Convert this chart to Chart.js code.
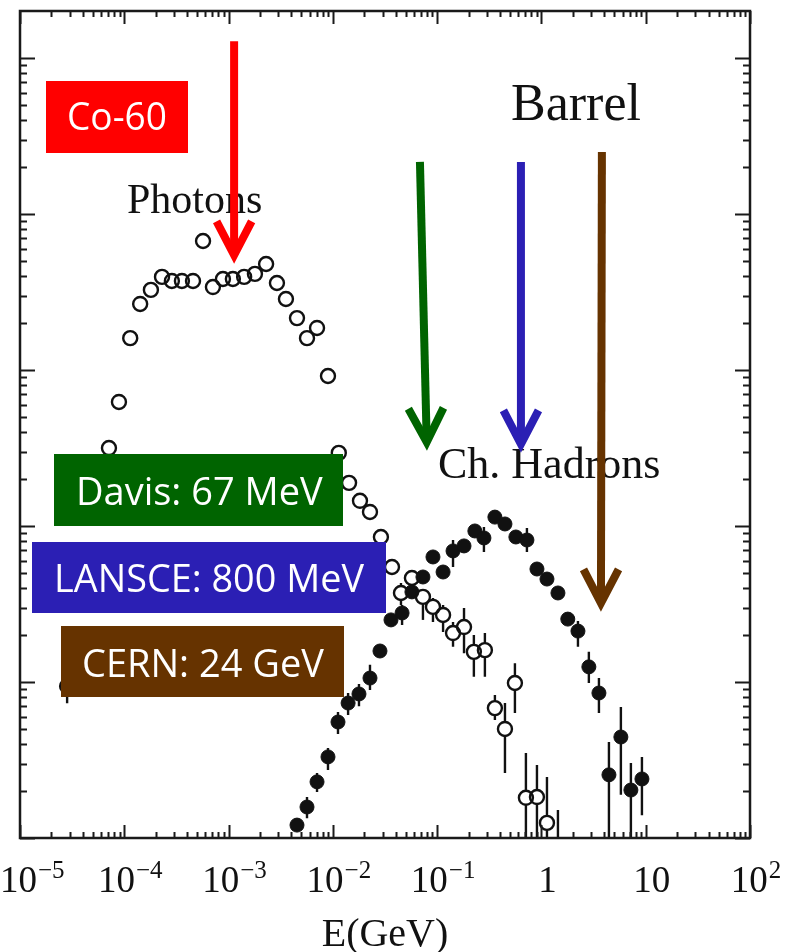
<!DOCTYPE html>
<html>
<head>
<meta charset="utf-8">
<title>E(GeV) spectrum - Barrel</title>
<script src="https://cdn.jsdelivr.net/npm/chart.js@4.4.1/dist/chart.umd.min.js"></script>
<style>
  html, body { margin: 0; padding: 0; background: #fff; }
  canvas { display: block; }
</style>
</head>
<body>
<canvas id="myChart" width="788" height="952"></canvas>
<script>
// photons (open circles): energy in GeV, flux, error bar low / high (null = none)
let photonE = [2.83e-5, 7.13e-5, 8.89e-5, 1.14e-4, 1.42e-4, 1.80e-4, 2.30e-4, 2.86e-4, 3.57e-4, 4.56e-4,
  5.69e-4, 7.08e-4, 8.83e-4, 1.10e-3, 1.41e-3, 1.79e-3, 2.29e-3, 2.91e-3, 3.55e-3, 4.53e-3,
  5.65e-3, 7.05e-3, 8.98e-3, 1.14e-2, 1.43e-2, 1.82e-2, 2.27e-2, 2.89e-2, 3.69e-2, 4.50e-2,
  5.73e-2, 7.31e-2, 9.12e-2, 0.114, 0.142, 0.181, 0.225, 0.287, 0.358, 0.447,
  0.557, 0.710, 0.906, 1.13, 1.44];
let photonN = [9.4, 316, 624, 1600, 2650, 3260, 3950, 3720, 3720, 3720,
  6710, 3400, 3830, 3830, 3950, 4130, 4780, 3610, 2850, 2150,
  1600, 1860, 915, 294, 189, 145, 123, 85, 54.6, 37.2,
  46.4, 35.1, 30.3, 26.9, 20.6, 22.5, 15.6, 16.0, 6.8, 5.0,
  9.85, 1.81, 1.83, 1.25, 0.84];
let photonLo = [7.3, null, null, null, null, null, null, null, null, null,
  null, null, null, null, null, null, null, null, null, null,
  null, null, null, null, null, null, null, null, null, 31.2,
  null, 25.0, 24.2, 20.9, 16.8, 15.3, 10.8, 10.8, 5.71, 2.61,
  6.33, 0.5, 0.5, 0.5, 0.5];
let photonHi = [11.9, null, null, null, null, null, null, null, null, null,
  null, null, null, null, null, null, null, null, null, null,
  null, null, null, null, null, null, null, null, null, 43.1,
  null, 38.9, 34.5, 31.2, 24.2, 29.8, 20.0, 20.6, 8.26, 7.34,
  13.2, 3.51, 2.94, 2.46, 1.51];

// charged hadrons (filled circles)
let hadronE = [4.53e-3, 5.65e-3, 7.05e-3, 8.98e-3, 1.12e-2, 1.40e-2, 1.78e-2, 2.27e-2, 2.83e-2, 3.61e-2,
  4.61e-2, 5.73e-2, 7.31e-2, 9.12e-2, 0.114, 0.142, 0.181, 0.230, 0.281, 0.358,
  0.447, 0.569, 0.726, 0.906, 1.13, 1.44, 1.79, 2.24, 2.85, 3.56,
  4.44, 5.78, 7.21, 9.20];
let hadronN = [1.21, 1.58, 2.29, 3.31, 5.54, 7.33, 8.38, 10.6, 15.8, 25.0,
  27.7, 37.8, 47.1, 63.3, 50.7, 69.2, 74.5, 92.9, 83.8, 114,
  103, 85, 81.3, 53.0, 45.7, 37.2, 25.3, 21.2, 12.5, 8.5,
  2.54, 4.44, 2.03, 2.39];
let hadronLo = [null, 1.34, 1.97, 2.73, 4.64, 6.14, 7.0, 8.9, null, null,
  23.2, null, null, null, null, 54.6, null, null, 68.1, null,
  null, null, 68.1, null, null, null, null, 16.8, 9.85, 6.33,
  0.5, 1.89, 0.5, 1.40];
let hadronHi = [null, 1.83, 2.61, 3.78, 6.42, 8.5, 9.7, 12.9, null, null,
  31.2, null, null, null, null, 81.3, null, null, 98.6, null,
  null, null, 97.1, null, null, null, null, 24.6, 15.6, 10.6,
  4.12, 6.92, 3.03, 3.31];

// beam energy arrows: top and tip, in axis units
let arrowColor = ["#ff0000", "#006400", "#2b1fb4", "#663300"];
let arrowTopE = [1.13e-3, 0.0684, 0.636, 3.80];
let arrowTipE = [1.13e-3, 0.0798, 0.636, 3.72];
let arrowTopN = [1.28e5, 21550, 21550, 24970];
let arrowTipN = [4850, 307, 298, 28.5];

// x axis decades
let xTickExp = [-5, -4, -3, -2, -1, 0, 1, 2];

function toPoints(xs, ys) {
  let pts = [];
  for (var i = 0; i < xs.length; i++) {
    pts.push({ x: xs[i], y: ys[i] });
  }
  return pts;
}

var serif = "'Liberation Serif', 'Times New Roman', serif";
var sans = "'Open Sans', 'Noto Sans', sans-serif";

function errorBars(ctx, sx, sy, E, N, lo, hi, r) {
  ctx.strokeStyle = "#111";
  ctx.lineWidth = 2.4;
  for (var i = 0; i < E.length; i++) {
    if (lo[i] === null) continue;
    let px = sx.getPixelForValue(E[i]);
    let cy = sy.getPixelForValue(N[i]);
    let top = sy.getPixelForValue(hi[i]);
    let bot = sy.getPixelForValue(lo[i]);
    ctx.beginPath();
    if (top < cy - r) { ctx.moveTo(px, top); ctx.lineTo(px, cy - r); }
    if (bot > cy + r) { ctx.moveTo(px, cy + r); ctx.lineTo(px, bot); }
    ctx.stroke();
  }
}

function arrow(ctx, x0, y0, x1, y1, color) {
  let ang = Math.atan2(y1 - y0, x1 - x0);
  let spread = 0.48, len = 38;
  // pull the stroked tip back so the mitred point lands on (x1, y1)
  let tx = x1 - 8 * Math.cos(ang), ty = y1 - 8 * Math.sin(ang);
  ctx.strokeStyle = color;
  ctx.lineWidth = 8;
  ctx.lineCap = "butt";
  ctx.lineJoin = "miter";
  ctx.beginPath();
  ctx.moveTo(x0, y0);
  ctx.lineTo(tx, ty);
  ctx.stroke();
  ctx.beginPath();
  ctx.moveTo(tx - len * Math.cos(ang - spread), ty - len * Math.sin(ang - spread));
  ctx.lineTo(tx, ty);
  ctx.lineTo(tx - len * Math.cos(ang + spread), ty - len * Math.sin(ang + spread));
  ctx.stroke();
}

function labelBox(ctx, text, color, x, y, w, h, tx, baseline, tw) {
  ctx.fillStyle = color;
  ctx.fillRect(x, y, w, h);
  ctx.fillStyle = "#fff";
  ctx.font = "38px " + sans;
  ctx.textAlign = "left";
  ctx.textBaseline = "alphabetic";
  ctx.fillText(text, tx, baseline, tw);
}

// frame, inward ticks, tick labels, titles, arrows and beam boxes
let figure = {
  id: "figure",
  afterDatasetsDraw(chart) {
    let ctx = chart.ctx;
    let a = chart.chartArea;
    let sx = chart.scales.x, sy = chart.scales.y;
    ctx.save();

    ctx.save();
    ctx.beginPath();
    ctx.rect(a.left, a.top, a.right - a.left, a.bottom - a.top);
    ctx.clip();
    errorBars(ctx, sx, sy, photonE, photonN, photonLo, photonHi, 7);
    errorBars(ctx, sx, sy, hadronE, hadronN, hadronLo, hadronHi, 6);
    ctx.restore();

    ctx.fillStyle = "#111";
    ctx.textBaseline = "alphabetic";
    ctx.textAlign = "left";
    ctx.font = "42px " + serif;
    ctx.fillText("Photons", 127, 213);
    ctx.font = "44px " + serif;
    ctx.fillText("Ch. Hadrons", 438, 478);
    ctx.font = "52px " + serif;
    ctx.fillText("Barrel", 511, 120);

    for (var i = 0; i < arrowColor.length; i++) {
      arrow(ctx,
        sx.getPixelForValue(arrowTopE[i]), sy.getPixelForValue(arrowTopN[i]),
        sx.getPixelForValue(arrowTipE[i]), sy.getPixelForValue(arrowTipN[i]),
        arrowColor[i]);
    }

    labelBox(ctx, "Co-60", "#ff0000", 46, 81, 142, 72, 67, 130, 100);
    labelBox(ctx, "Davis: 67 MeV", "#006400", 54, 454, 289, 72, 76, 505, 248);
    labelBox(ctx, "LANSCE: 800 MeV", "#2b1fb4", 32, 542, 354, 71, 54, 592, 310);
    labelBox(ctx, "CERN: 24 GeV", "#663300", 61, 626, 283, 71, 82, 677, 242);

    // frame
    ctx.strokeStyle = "#1a1a1a";
    ctx.lineWidth = 2.5;
    ctx.strokeRect(a.left, a.top, a.right - a.left, a.bottom - a.top);

    // log ticks, pointing into the plot
    ctx.lineWidth = 2;
    ctx.beginPath();
    for (var k = -5; k <= 2; k++) {
      for (var m = 1; m <= 9; m++) {
        let v = m * Math.pow(10, k);
        if (v > 100.0001) continue;
        let px = Math.round(sx.getPixelForValue(v)) + 0.5;
        let len = m === 1 ? 13 : 6;
        ctx.moveTo(px, a.bottom); ctx.lineTo(px, a.bottom - len);
        ctx.moveTo(px, a.top); ctx.lineTo(px, a.top + len);
      }
    }
    for (var k = 0; k <= 5; k++) {
      for (var m = 1; m <= 9; m++) {
        let v = m * Math.pow(10, k);
        if (v >= sy.max) continue;
        let py = Math.round(sy.getPixelForValue(v)) + 0.5;
        let len = m === 1 ? 15 : 7;
        ctx.moveTo(a.left, py); ctx.lineTo(a.left + len, py);
        ctx.moveTo(a.right, py); ctx.lineTo(a.right - len, py);
      }
    }
    ctx.stroke();

    // x tick labels with superscript exponents
    ctx.fillStyle = "#111";
    xTickExp.forEach(function(k) {
      let base, sup = "";
      if (k === 0) base = "1";
      else if (k === 1) base = "10";
      else { base = "10"; sup = (k < 0 ? "\u2212" : "") + Math.abs(k); }
      ctx.font = "37px " + serif;
      let bw = ctx.measureText(base).width;
      ctx.font = "25px " + serif;
      let sw = sup ? ctx.measureText(sup).width + 1 : 0;
      let cx = sx.getPixelForValue(Math.pow(10, k)) + 6;
      let left = Math.max(0, cx - (bw + sw) / 2);
      ctx.font = "37px " + serif;
      ctx.fillText(base, left, 892);
      if (sup) {
        ctx.font = "25px " + serif;
        ctx.fillText(sup, left + bw + 1, 878);
      }
    });

    ctx.font = "40px " + serif;
    ctx.textAlign = "center";
    ctx.fillText("E(GeV)", (a.left + a.right) / 2, 946);
    ctx.restore();
  }
};

var ctx = document.getElementById("myChart").getContext("2d");
var chart = new Chart(ctx, {
  type: "scatter",
  data: {
    datasets: [{
      label: "Photons",
      data: toPoints(photonE, photonN),
      pointStyle: "circle",
      pointRadius: 7,
      borderColor: "#111",
      borderWidth: 2.4,
      backgroundColor: "rgba(0,0,0,0)"
    }, {
      label: "Ch. Hadrons",
      data: toPoints(hadronE, hadronN),
      pointStyle: "circle",
      pointRadius: 7,
      borderColor: "#111",
      borderWidth: 1,
      backgroundColor: "#111"
    }]
  },
  options: {
    responsive: false,
    animation: false,
    devicePixelRatio: 1,
    layout: { padding: { left: 20, top: 11, right: 38, bottom: 114 } },
    plugins: { legend: { display: false }, tooltip: { enabled: false } },
    scales: {
      x: { type: "logarithmic", min: 1e-5, max: 1e2, bounds: "data", display: false },
      y: { type: "logarithmic", min: 1, max: 2e5, bounds: "data", display: false }
    }
  },
  plugins: [figure]
});
</script>
</body>
</html>
